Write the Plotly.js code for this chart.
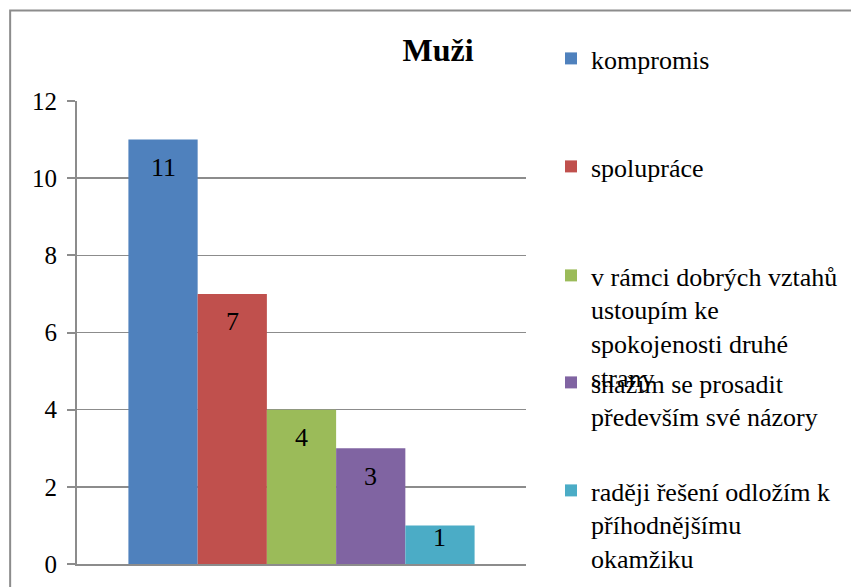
<!DOCTYPE html>
<html>
<head>
<meta charset="utf-8">
<script src="https://cdn.plot.ly/plotly-3.0.1.min.js"></script>
<style>html,body{margin:0;padding:0;background:#fff;}#chart{width:851px;height:587px;}</style>
</head>
<body>
<div id="chart"></div>
<script>
// ---- data ----
const chartTitle = "Muži";
const category = ["Muži"];
const seriesNames = [
  "kompromis",
  "spolupráce",
  "v rámci dobrých vztahů<br>ustoupím ke<br>spokojenosti druhé<br>strany",
  "snažím se prosadit<br>především své názory",
  "raději řešení odložím k<br>příhodnějšímu<br>okamžiku"
];
const seriesValues = [11, 7, 4, 3, 1];
const seriesColors = ["#4F81BD", "#C0504D", "#9BBB59", "#8064A2", "#4BACC6"];
const yTicks = [0, 2, 4, 6, 8, 10, 12];

// ---- styling ----
const FONT = "Liberation Serif";
const GRAY = "#8c8c8c";
const BARGAP = 0.229;
const legendTops = [35, 143, 252, 359, 467]; // px from top
const legendLeft = 551;
const PLOT_H = 463, Y_MAX = 12;

const traces = seriesNames.map((name, i) => ({
  type: "bar",
  name: name,
  x: category,
  y: [seriesValues[i]],
  marker: {color: seriesColors[i], line: {width: 0}},
  legend: i === 0 ? "legend" : "legend" + (i + 1),
  hoverinfo: "skip"
}));

const n = seriesValues.length;
const w = (1 - BARGAP) / n;
const annotations = seriesValues.map((v, i) => ({
  x: (i - (n - 1) / 2) * w,
  y: v,
  xref: "x", yref: "y",
  text: String(v),
  showarrow: false,
  yanchor: "middle",
  yshift: -Math.min(28, (v / Y_MAX) * PLOT_H * 0.31),
  font: {family: FONT, size: 26, color: "#000"}
}));

function legendCfg(i) {
  return {
    x: legendLeft / 851, y: 1 - legendTops[i] / 587,
    xref: "container", yref: "container",
    xanchor: "left", yanchor: "top",
    bgcolor: "rgba(0,0,0,0)", borderwidth: 0,
    font: {family: FONT, size: 26, color: "#000"},
    valign: "top", itemwidth: 30, tracegroupgap: 0,
    itemclick: false, itemdoubleclick: false
  };
}

const layout = {
  width: 851, height: 587,
  margin: {l: 76.5, r: 324.5, t: 101, b: 23, pad: 0},
  paper_bgcolor: "#fff", plot_bgcolor: "#fff",
  font: {family: FONT, color: "#000"},
  barmode: "group", bargap: BARGAP, bargroupgap: 0,
  showlegend: true,
  title: {
    text: "<b>" + chartTitle + "</b>",
    font: {family: FONT, size: 32, color: "#000"},
    x: 438 / 851, xref: "container", xanchor: "center",
    y: 1 - 50 / 587, yref: "container", yanchor: "middle"
  },
  xaxis: {
    type: "category", range: [-0.5, 0.5],
    showticklabels: false, ticks: "", showgrid: false,
    showline: true, linecolor: GRAY, linewidth: 2, zeroline: false, fixedrange: true
  },
  yaxis: {
    range: [0, Y_MAX], tickvals: yTicks, ticktext: yTicks.map(String),
    ticks: "outside", ticklen: 8, tickcolor: GRAY, tickwidth: 2,
    showline: true, linecolor: GRAY, linewidth: 2,
    showgrid: true, gridcolor: GRAY, gridwidth: 1.5, zeroline: false,
    ticklabelstandoff: 5,
    tickfont: {family: FONT, size: 25, color: "#000"}, fixedrange: true
  },
  annotations: annotations,
  shapes: [{
    type: "rect", xref: "paper", yref: "paper", layer: "below",
    x0: (9.5 - 76.5) / 450, x1: 1.9,
    y0: -0.3, y1: (564 - 10.5) / 463,
    line: {color: GRAY, width: 2}, fillcolor: "rgba(0,0,0,0)"
  }]
};
for (let i = 0; i < n; i++) {
  layout[i === 0 ? "legend" : "legend" + (i + 1)] = legendCfg(i);
}

Plotly.newPlot("chart", traces, layout, {displayModeBar: false, staticPlot: true});
</script>
</body>
</html>
